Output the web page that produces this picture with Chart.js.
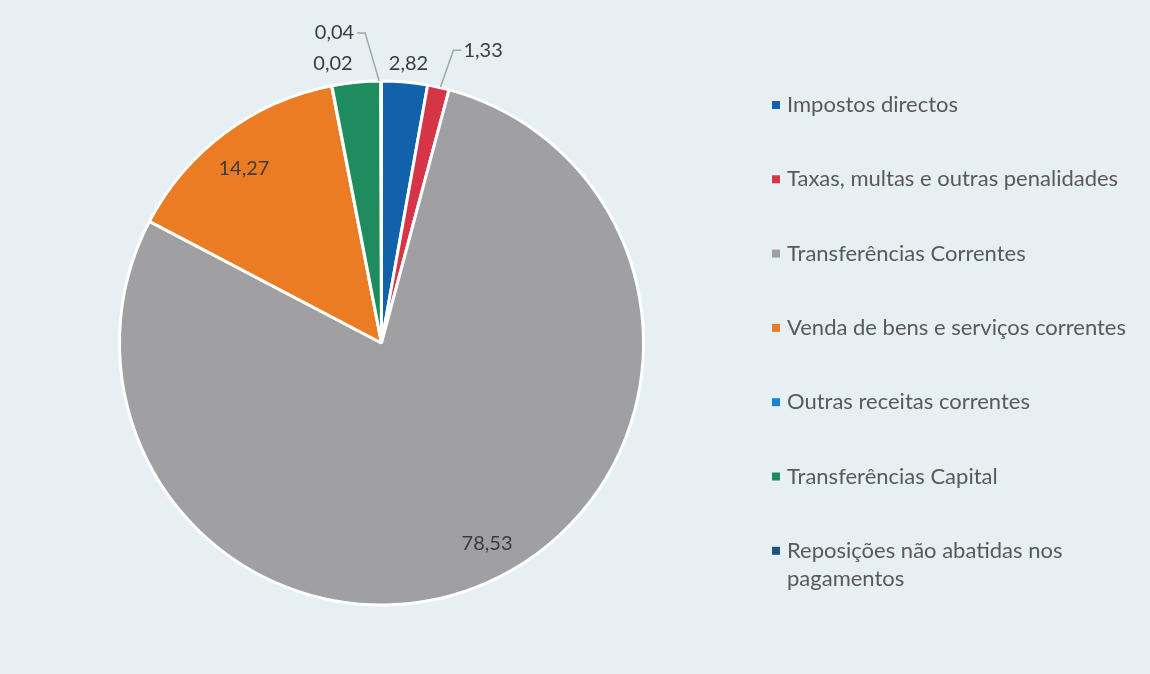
<!DOCTYPE html>
<html lang="pt">
  <head>
    <meta charset="UTF-8" />
    <title>Receitas</title>
    <script src="https://cdn.jsdelivr.net/npm/chart.js@4.4.1/dist/chart.umd.min.js"></script>
    <style>
      html, body { margin: 0; padding: 0; background: #e6eff2; }
      #wrap { width: 1150px; height: 674px; }
    </style>
  </head>
  <body>
    <div id="wrap"><canvas id="myChart"></canvas></div>

    <script>
      // categories and values (percent)
      var categories = [
        "Impostos directos",
        "Taxas, multas e outras penalidades",
        "Transferências Correntes",
        "Venda de bens e serviços correntes",
        "Outras receitas correntes",
        "Transferências Capital",
        ["Reposições não abatidas nos", "pagamentos"],
      ];
      var values = [2.82, 1.33, 78.53, 14.27, 0.02, 2.99, 0.04];
      // text shown on each slice ("" = no label)
      var valueLabels = ["2,82", "1,33", "78,53", "14,27", "0,02", "", "0,04"];
      var colors = ["#1162aa", "#d63447", "#a09fa2", "#ec7c23", "#1a86cf", "#1f8c5e", "#214f7e"];

      // how each label is placed: in = inside slice, out = just outside, call = moved with leader line
      var placement = ["out", "call", "in", "in", "out", "none", "call"];
      var callOffset = [null, [45, -37], null, null, null, null, [-46, -48]];
      // small nudges of the label text, px
      var nudge = [[2, 1], [0, 2], [15, -6], [-3, 6], [5, -3], [0, 0], [-1, 2]];

      var labelFont = "20px Lato";
      var legendFont = "22px Lato";

      var sliceLabels = {
        id: "sliceLabels",
        afterDatasetsDraw: function (chart) {
          var ctx = chart.ctx;
          var arcs = chart.getDatasetMeta(0).data;
          ctx.save();
          ctx.font = labelFont;
          ctx.fillStyle = "#3c3c3c";
          ctx.textBaseline = "middle";
          arcs.forEach(function (arc, i) {
            var mode = placement[i];
            if (mode === "none" || !valueLabels[i]) return;
            var mid = (arc.startAngle + arc.endAngle) / 2;
            var r = arc.outerRadius;
            var n = nudge[i];
            var x, y;
            if (mode === "in") {
              x = arc.x + Math.cos(mid) * r * 0.86 + n[0];
              y = arc.y + Math.sin(mid) * r * 0.86 + n[1];
              ctx.textAlign = "center";
              ctx.fillText(valueLabels[i], x, y);
            } else if (mode === "out") {
              x = arc.x + Math.cos(mid) * (r + 20) + n[0];
              y = arc.y + Math.sin(mid) * (r + 20) + n[1];
              ctx.textAlign = "center";
              ctx.fillText(valueLabels[i], x, y);
            } else {
              var ax = arc.x + Math.cos(mid) * r;
              var ay = arc.y + Math.sin(mid) * r;
              var off = callOffset[i];
              var lx = ax + off[0];
              var ly = ay + off[1];
              var dir = off[0] > 0 ? 1 : -1;
              ctx.strokeStyle = "#a6a6a6";
              ctx.lineWidth = 1.5;
              ctx.beginPath();
              ctx.moveTo(ax + 2 * dir, ay);
              ctx.lineTo(lx - 30 * dir, ly);
              ctx.lineTo(lx - 22 * dir, ly);
              ctx.stroke();
              ctx.textAlign = dir > 0 ? "left" : "right";
              ctx.fillText(valueLabels[i], lx - 20 * dir + n[0], ly - 2 + n[1]);
            }
          });
          ctx.restore();
        },
      };

      var sideLegend = {
        id: "sideLegend",
        afterDraw: function (chart) {
          var ctx = chart.ctx;
          ctx.save();
          ctx.font = legendFont;
          ctx.textBaseline = "middle";
          ctx.textAlign = "left";
          var top = 105;
          var step = 74.3;
          categories.forEach(function (cat, i) {
            var y = top + i * step;
            ctx.fillStyle = colors[i];
            ctx.fillRect(772, y - 4, 8, 8);
            ctx.fillStyle = "#595959";
            var lines = Array.isArray(cat) ? cat : [cat];
            lines.forEach(function (t, k) {
              ctx.fillText(t, 787, y + k * 28);
            });
          });
          ctx.restore();
        },
      };

      var ctx = document.getElementById("myChart").getContext("2d");
      var myPieChart = new Chart(ctx, {
        type: "pie",
        data: {
          labels: categories.map(function (c) { return Array.isArray(c) ? c.join(" ") : c; }),
          datasets: [
            {
              data: values,
              backgroundColor: colors,
              borderColor: "#ffffff",
              borderWidth: 3,
            },
          ],
        },
        options: {
          responsive: true,
          maintainAspectRatio: false,
          animation: false,
          layout: { padding: { left: 118, top: 79, right: 505, bottom: 67 } },
          plugins: {
            legend: { display: false },
            tooltip: { enabled: false },
          },
        },
        plugins: [sliceLabels, sideLegend],
      });
    </script>
  </body>
</html>
